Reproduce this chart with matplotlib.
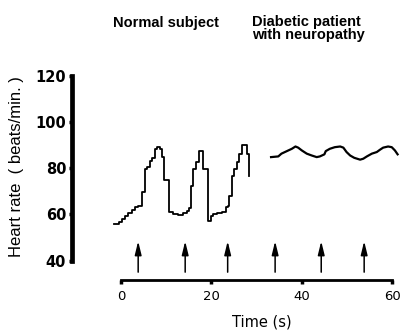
import matplotlib
matplotlib.use('Agg')
import matplotlib.pyplot as plt

# heart rate traces
normal_t = [-1.5, -0.4, 0.2, 0.9, 1.6, 2.4, 3.1, 3.8, 4.6, 5.3, 5.8, 6.4, 6.8, 7.5, 7.9, 8.7,
            9.0, 9.6, 10.7, 11.6, 12.7, 13.8, 14.6, 15.0, 15.5, 16.0, 16.7, 17.3, 18.2, 19.3,
            19.9, 20.4, 21.2, 22.3, 23.2, 23.6, 24.0, 24.5, 25.1, 25.6, 26.1, 26.8, 27.8, 28.4]
normal_hr = [55.8, 56.8, 58.0, 59.4, 60.6, 62.0, 63.0, 63.8, 69.9, 79.7, 80.4, 83.3, 84.3, 88.4, 89.1, 88.5,
             84.8, 74.7, 61.2, 60.2, 59.7, 60.6, 61.5, 62.6, 72.5, 79.7, 82.9, 87.3, 79.7, 57.3,
             59.4, 60.2, 60.6, 61.2, 63.0, 63.8, 68.1, 76.8, 79.7, 82.9, 86.3, 90.2, 86.3, 76.8]

diab_t = [33.2, 34.8, 35.5, 36.7, 37.8, 38.6, 39.2, 40.0, 41.1, 42.2, 43.3, 44.0, 45.0, 45.3, 46.2, 47.3,
          48.5, 49.2, 49.9, 50.7, 51.6, 52.9, 53.6, 54.4, 55.5, 56.6, 57.3, 58.0, 59.1, 59.9, 60.6, 61.2]
diab_hr = [84.8, 85.1, 86.3, 87.4, 88.4, 89.4, 88.9, 87.7, 86.3, 85.5, 84.8, 85.1, 86.0, 87.4, 88.4, 89.1,
           89.4, 88.9, 87.0, 85.5, 84.5, 83.7, 84.1, 85.1, 86.3, 87.0, 88.0, 88.9, 89.4, 89.1, 87.7, 86.0]

# deep breath markers (arrows)
breath_t = [3.8, 14.2, 23.6, 34.1, 44.3, 53.8]
arrow_lo, arrow_hi = 35.0, 48.4

yticks = [40, 60, 80, 100, 120]
xticks = [0, 20, 40, 60]

fig = plt.figure(figsize=(4.03, 3.32), dpi=100)
ax = fig.add_axes([0.178, 0.1566, 0.8176, 0.629])

ax.plot(normal_t, normal_hr, drawstyle='steps-post', color='black', lw=1.3)
ax.plot(diab_t, diab_hr, color='black', lw=1.6)

for t in breath_t:
    ax.annotate('', xy=(t, arrow_hi), xytext=(t, arrow_lo),
                arrowprops=dict(arrowstyle='-|>,head_length=0.45,head_width=0.11',
                                mutation_scale=18, color='black', lw=1.1,
                                shrinkA=0, shrinkB=0))

ax.set_xlim(-10.9, 62)
ax.set_ylim(31.6, 122)

for s in ['top', 'right']:
    ax.spines[s].set_visible(False)
ax.spines['left'].set_bounds(40, 120)
ax.spines['left'].set_linewidth(3.4)
ax.spines['left'].set_capstyle('projecting')
ax.spines['bottom'].set_bounds(0, 60)
ax.spines['bottom'].set_linewidth(2.0)

ax.set_yticks(yticks)
ax.set_xticks(xticks)
ax.tick_params(axis='y', direction='out', length=2.5, width=2.5, pad=1.5)
ax.tick_params(axis='x', direction='out', length=3, width=2.5, pad=4)
for lab in ax.get_yticklabels():
    lab.set_fontfamily('DejaVu Sans')
    lab.set_fontweight('bold')
    lab.set_fontsize(10.5)
for lab in ax.get_xticklabels():
    lab.set_fontfamily('DejaVu Sans')
    lab.set_fontsize(9.5)

fig.text(17 / 403, 1 - 167 / 332, 'Heart rate  ( beats/min. )', rotation=90,
         ha='center', va='center', fontsize=12, family='Liberation Sans')
fig.text(262 / 403, 1 - 322 / 332, 'Time (s)', ha='center', va='center',
         fontsize=10.5, family='DejaVu Sans')

fig.text(113 / 403, 1 - 27 / 332, 'Normal subject', ha='left', va='baseline',
         fontsize=10.5, fontweight='bold', family='Liberation Sans')
fig.text(252 / 403, 1 - 26 / 332, 'Diabetic patient', ha='left', va='baseline',
         fontsize=10.5, fontweight='bold', family='Liberation Sans')
fig.text(252 / 403, 1 - 38.5 / 332, 'with neuropathy', ha='left', va='baseline',
         fontsize=10.5, fontweight='bold', family='Liberation Sans')

fig.savefig('out.png', dpi=100)
